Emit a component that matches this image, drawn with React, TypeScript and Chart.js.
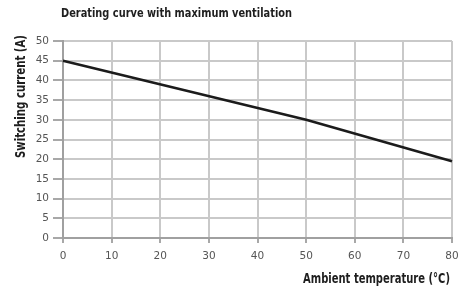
import React, { useEffect, useRef } from "react";
import { Chart, registerables } from "chart.js";

Chart.register(...registerables);

const TITLE = "Derating curve with maximum ventilation";
const X_TITLE = "Ambient temperature (°C)";
const Y_TITLE = "Switching current (A)";

const temperatures = [0, 50, 80];
const currents = [45, 30, 19.5];

const FAMILY = "'DejaVu Sans', sans-serif";

function fitText(ctx: any, text: string, x: number, y: number, width: number, align: string) {
  const w = ctx.measureText(text).width;
  const k = width / w;
  ctx.save();
  ctx.translate(x, y);
  ctx.scale(k, 1);
  ctx.textAlign = align;
  ctx.fillText(text, 0, 0);
  ctx.restore();
}

const titlesPlugin = {
  id: "customTitles",
  afterDraw(chart: any) {
    const ctx = chart.ctx;
    ctx.save();
    ctx.fillStyle = "#1e1e1e";
    ctx.textBaseline = "middle";
    ctx.font = `bold 12.5px ${FAMILY}`;
    fitText(ctx, TITLE, 61, 14, 231, "left");
    ctx.font = `bold 14px ${FAMILY}`;
    fitText(ctx, X_TITLE, 450, 279, 147, "right");
    ctx.translate(21, 96.5);
    ctx.rotate(-Math.PI / 2);
    ctx.font = `bold 14px ${FAMILY}`;
    fitText(ctx, Y_TITLE, 0, 0, 123, "center");
    ctx.restore();
  },
};

const tickFont = { family: FAMILY, size: 10.5, style: "condensed" as any };

export default function App() {
  const ref = useRef<HTMLCanvasElement>(null);
  useEffect(() => {
    if (!ref.current) return;
    const chart = new Chart(ref.current, {
      type: "line",
      data: {
        datasets: [
          {
            data: temperatures.map((t, i) => ({ x: t, y: currents[i] })),
            borderColor: "#1b1b1b",
            borderWidth: 2.6,
            pointRadius: 0,
            tension: 0,
            clip: false as any,
          },
        ],
      },
      options: {
        responsive: false,
        animation: false,
        layout: { padding: { left: 0, right: 8, top: 41, bottom: 0 } },
        plugins: { legend: { display: false }, tooltip: { enabled: false }, title: { display: false } },
        scales: {
          x: {
            type: "linear",
            min: 0,
            max: 80,
            ticks: { stepSize: 10, color: "#555", font: tickFont, padding: 7, maxRotation: 0 },
            grid: { color: "#c9c9c9", lineWidth: 2, tickLength: 5, tickColor: "#a8a8a8" },
            border: { color: "#a0a0a0", width: 2 },
            afterFit: (s: any) => { s.height = 53; s.paddingLeft = 0; s.paddingRight = 0; },
          },
          y: {
            min: 0,
            max: 50,
            ticks: { stepSize: 5, color: "#555", font: tickFont, padding: 4 },
            grid: { color: "#c9c9c9", lineWidth: 2, tickLength: 10, tickColor: "#a8a8a8" },
            border: { color: "#a0a0a0", width: 2 },
            afterFit: (s: any) => { s.width = 63; s.paddingTop = 0; s.paddingBottom = 0; },
          },
        },
      },
      plugins: [titlesPlugin],
    });
    return () => chart.destroy();
  }, []);
  return (
    <div style={{ position: "absolute", left: 0, top: 0, width: 460, height: 291, background: "#fff" }}>
      <canvas ref={ref} width={460} height={291} />
    </div>
  );
}
